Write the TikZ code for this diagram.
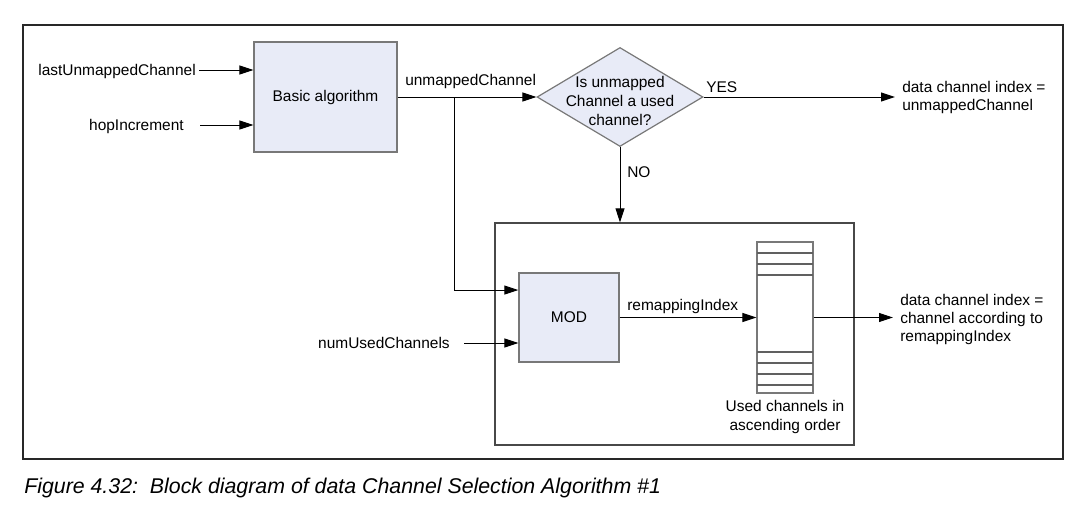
\documentclass[tikz,border=0pt]{standalone}
\usepackage{fontspec}
\setmainfont{Liberation Sans}
\usetikzlibrary{arrows.meta,shapes.geometric}
\definecolor{boxfill}{RGB}{232,235,247}
\definecolor{boxdraw}{RGB}{120,120,120}
\definecolor{framecol}{RGB}{40,40,40}
\begin{document}
\begin{tikzpicture}[x=0.75pt,y=-0.75pt,
  font=\fontsize{11.6}{13.5}\selectfont,
  line/.style={draw=black,line width=0.75pt},
  arr/.style={line,-{Triangle[length=10.5pt,width=6.75pt]}},
  blk/.style={draw=boxdraw,fill=boxfill,line width=0.9pt,inner sep=0pt},
  lbl/.style={inner sep=0pt,text=black},
  outtxt/.style={inner xsep=5.25pt,inner ysep=0pt,align=left,anchor=west}]
\useasboundingbox (0,0) rectangle (1086,518);
% frames
\node[draw=framecol,line width=1.2pt,minimum width=780pt,minimum height=325.5pt,inner sep=0pt] (frame) at (543,242) {};
\node[draw=framecol!85,line width=1pt,minimum width=269.25pt,minimum height=166.5pt,inner sep=0pt] (inner) at (674.5,334) {};
% blocks
\node[blk,minimum width=107.25pt,minimum height=82.5pt] (basic) at (325.5,97) {Basic algorithm};
\node[blk,diamond,minimum width=124.5pt,minimum height=74.25pt] (dia) at (620,97) {};
\node[lbl,align=center,font=\fontsize{11.6}{13.9}\selectfont] (diatxt) at (620,101) {Is unmapped\\Channel a used\\channel?};
\node[blk,minimum width=75pt,minimum height=66.75pt] (mod) at (569,317.5) {MOD};
\node[draw=boxdraw,fill=white,line width=0.9pt,minimum width=42pt,minimum height=113.25pt,inner sep=0pt] (tab) at (785,317.5) {};
\foreach \yy in {253,264,275,352,363,374,385}
  \draw[draw=boxdraw!80!black,line width=0.8pt] (757,\yy) -- (813,\yy);
% labels
\node[lbl,anchor=base east] (lum) at (196,75.5) {lastUnmappedChannel};
\node[lbl,anchor=base east] (hop) at (184,130.5) {hopIncrement};
\node[lbl,anchor=base west] (umc) at (405,85) {unmappedChannel};
\node[lbl,anchor=base west] (yes) at (706,92) {YES};
\node[lbl,anchor=base west] (no) at (627,177) {NO};
\node[lbl,anchor=base east] (nuc) at (450,348.5) {numUsedChannels};
\node[lbl,anchor=base west] (rmi) at (627,310) {remappingIndex};
\node[lbl,align=center,font=\fontsize{11.6}{14}\selectfont] (used) at (785,417) {Used channels in\\ascending order};
\node[outtxt] (out1) at (895,97) {data channel index =\\unmappedChannel};
\node[outtxt] (out2) at (893,319) {data channel index =\\channel according to\\remappingIndex};
% free ends
\coordinate (lumS) at (199,70);
\coordinate (hopS) at (200,125);
\coordinate (br) at (454,97);
\coordinate (nucS) at (464,343);
% connectors
\draw[arr] (lumS) -- (lumS -| basic.west);
\draw[arr] (hopS) -- (hopS -| basic.west);
\draw[arr] (basic.east |- dia.west) -- (dia.west);
\draw[arr] (dia.east) -- (out1.west);
\draw[arr] (dia.south) -- (dia.south |- inner.north);
\draw[arr] (br) |- ([yshift=20.6pt]mod.west);
\draw[arr] (nucS) -- (nucS -| mod.west);
\draw[arr] (mod.east) -- (tab.west);
\draw[arr] (tab.east) -- (tab.east -| out2.west);
% caption
\node[lbl,anchor=base west,font=\fontsize{16}{19}\selectfont\itshape] (cap) at (24,493) {Figure 4.32:\ \ Block diagram of data Channel Selection Algorithm \#1};
\end{tikzpicture}
\end{document}
